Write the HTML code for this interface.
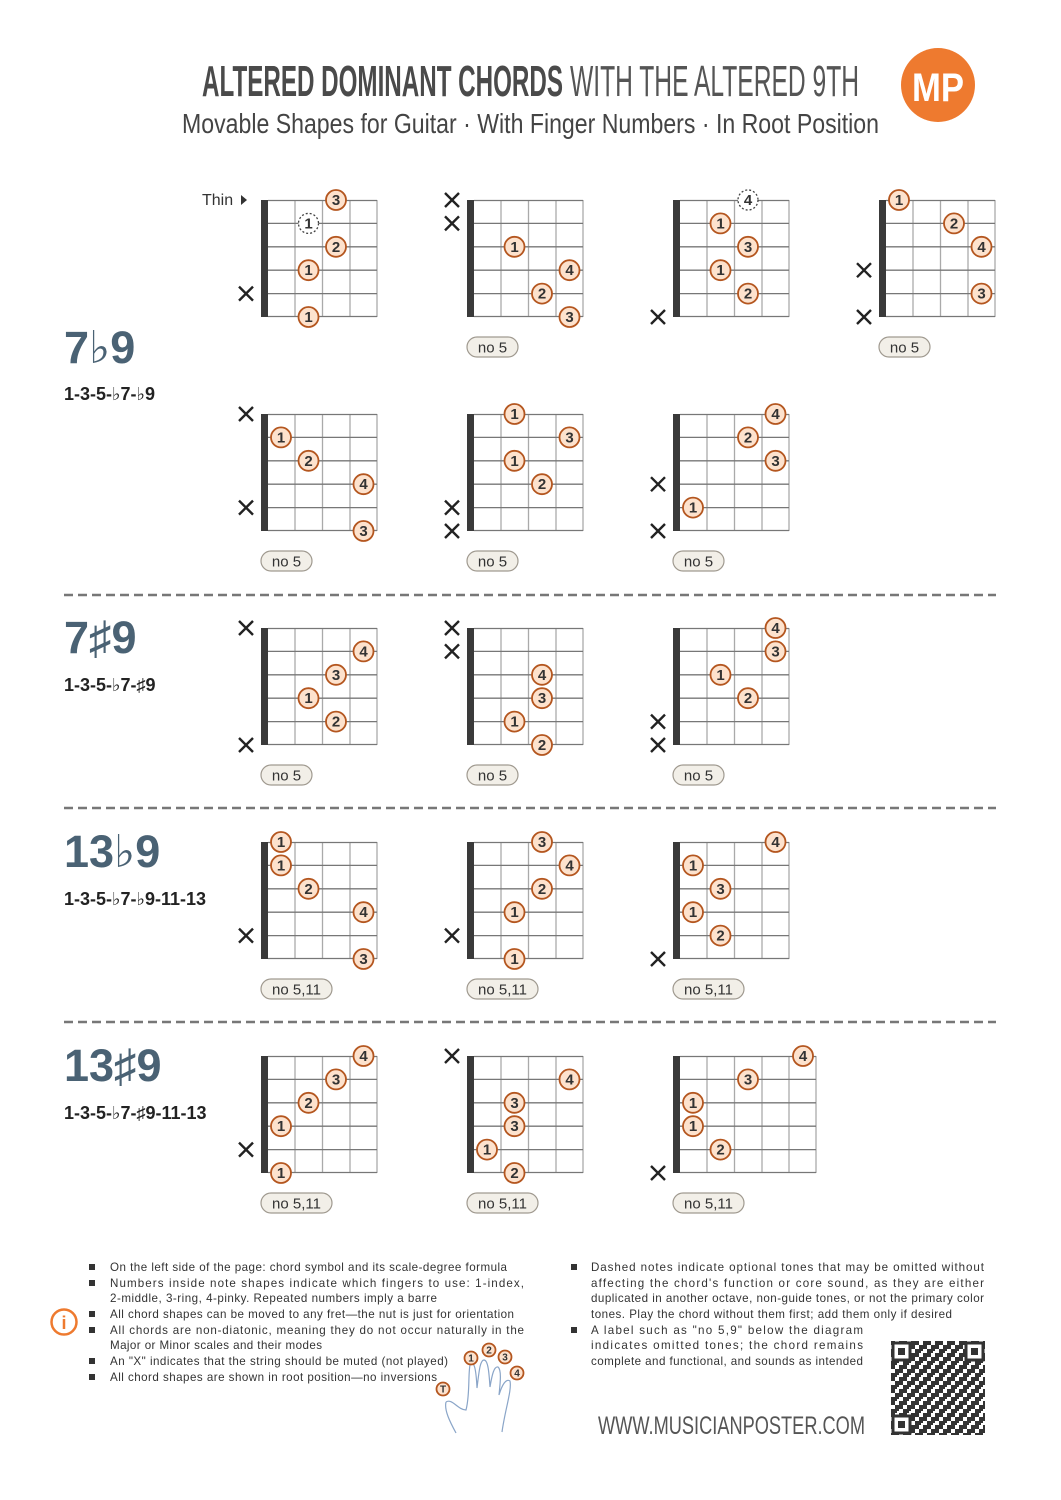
<!DOCTYPE html>
<html><head><meta charset="utf-8">
<style>
html,body{margin:0;padding:0;background:#fff;}
svg{display:block;}
text{font-family:"Liberation Sans","DejaVu Sans",sans-serif;}
.d circle{fill:#fde2cd;stroke:#b4561f;stroke-width:1.8;}
.d text{font-size:15px;font-weight:bold;fill:#333;text-anchor:middle;}
.o circle{fill:#fff;stroke:#444;stroke-width:1.3;stroke-dasharray:2 2;}
.o text{font-size:15px;font-weight:bold;fill:#333;text-anchor:middle;}
.pl rect{fill:#f2efe8;stroke:#a09a90;stroke-width:1.2;}
.pl text{font-size:15px;fill:#333;text-anchor:middle;}
.nm{font-size:45px;fill:#4a6274;font-weight:bold;}
.fm{font-size:18px;fill:#222;font-weight:600;}
.bt{font-size:11.6px;fill:#333;}
</style></head><body>
<svg width="1061" height="1500" viewBox="0 0 1061 1500" xmlns="http://www.w3.org/2000/svg">
<defs>
<g id="g4">
<rect x="0" y="0" width="7" height="117" fill="#3a3a3a"/>
<g stroke="#aaa" stroke-width="1.3">
<line x1="34" y1="0" x2="34" y2="117"/><line x1="61.5" y1="0" x2="61.5" y2="117"/><line x1="89" y1="0" x2="89" y2="117"/><line x1="116" y1="0" x2="116" y2="117"/>
</g>
<g stroke="#777" stroke-width="1.3">
<line x1="7" y1="0.5" x2="116" y2="0.5"/><line x1="7" y1="23.4" x2="116" y2="23.4"/><line x1="7" y1="46.8" x2="116" y2="46.8"/><line x1="7" y1="70.2" x2="116" y2="70.2"/><line x1="7" y1="93.6" x2="116" y2="93.6"/><line x1="7" y1="116.5" x2="116" y2="116.5"/>
</g>
</g>
<g id="g5">
<rect x="0" y="0" width="7" height="117" fill="#3a3a3a"/>
<g stroke="#aaa" stroke-width="1.3">
<line x1="34" y1="0" x2="34" y2="117"/><line x1="61.5" y1="0" x2="61.5" y2="117"/><line x1="89" y1="0" x2="89" y2="117"/><line x1="116" y1="0" x2="116" y2="117"/><line x1="143" y1="0" x2="143" y2="117"/>
</g>
<g stroke="#777" stroke-width="1.3">
<line x1="7" y1="0.5" x2="143" y2="0.5"/><line x1="7" y1="23.4" x2="143" y2="23.4"/><line x1="7" y1="46.8" x2="143" y2="46.8"/><line x1="7" y1="70.2" x2="143" y2="70.2"/><line x1="7" y1="93.6" x2="143" y2="93.6"/><line x1="7" y1="116.5" x2="143" y2="116.5"/>
</g>
</g>
<g id="x"><path d="M-7,-7L7,7M7,-7L-7,7" stroke="#222" stroke-width="2.4"/></g>
<pattern id="qr" x="891" y="1341" width="12" height="12" patternUnits="userSpaceOnUse">
<rect x="0" y="0" width="12" height="12" fill="#fff"/>
<rect x="0" y="0" width="4" height="4" fill="#333"/><rect x="4" y="4" width="4" height="4" fill="#333"/><rect x="8" y="0" width="4" height="8" fill="#333"/><rect x="0" y="8" width="8" height="4" fill="#333"/><rect x="6" y="10" width="2" height="2" fill="#fff"/>
</pattern>
</defs>

<!-- Header -->
<text x="202" y="96" font-size="44" font-weight="bold" fill="#4a4a4a" textLength="361" lengthAdjust="spacingAndGlyphs">ALTERED DOMINANT CHORDS</text>
<text x="570" y="96" font-size="44" fill="#555" textLength="289" lengthAdjust="spacingAndGlyphs" style="font-weight:300">WITH THE ALTERED 9TH</text>
<text x="182" y="133" font-size="28" fill="#444" textLength="697" lengthAdjust="spacingAndGlyphs">Movable Shapes for Guitar  ·  With Finger Numbers  ·  In Root Position</text>
<circle cx="938" cy="85" r="37" fill="#ee7a2f"/>
<text x="938" y="101" font-size="40" font-weight="bold" fill="#fff" text-anchor="middle" textLength="52" lengthAdjust="spacingAndGlyphs">MP</text>

<text x="202" y="205" font-size="16" fill="#333">Thin</text>
<path d="M241,195 L247,200 L241,205Z" fill="#333"/>

<!-- Chord names -->
<text class="nm" x="64" y="363">7♭9</text>
<text class="fm" x="64" y="400">1-3-5-♭7-♭9</text>
<text class="nm" x="64" y="653">7♯9</text>
<text class="fm" x="64" y="691">1-3-5-♭7-♯9</text>
<text class="nm" x="64" y="867">13♭9</text>
<text class="fm" x="64" y="905">1-3-5-♭7-♭9-11-13</text>
<text class="nm" x="64" y="1081">13♯9</text>
<text class="fm" x="64" y="1119">1-3-5-♭7-♯9-11-13</text>

<g stroke="#777" stroke-width="2.5" stroke-dasharray="9 5">
<line x1="64" y1="595" x2="996" y2="595"/>
<line x1="64" y1="808" x2="996" y2="808"/>
<line x1="64" y1="1022" x2="996" y2="1022"/>
</g>

<!-- Row 1 -->
<g transform="translate(261,200)"><use href="#g4"/>
<use href="#x" x="-15" y="93.6"/>
<g class="d" transform="translate(75,0)"><circle r="10"/><text y="5">3</text></g>
<g class="o" transform="translate(47.5,23.4)"><circle r="10"/><text y="5">1</text></g>
<g class="d" transform="translate(75,46.8)"><circle r="10"/><text y="5">2</text></g>
<g class="d" transform="translate(47.5,70.2)"><circle r="10"/><text y="5">1</text></g>
<g class="d" transform="translate(47.5,117)"><circle r="10"/><text y="5">1</text></g>
</g>
<g transform="translate(467,200)"><use href="#g4"/>
<use href="#x" x="-15" y="0"/><use href="#x" x="-15" y="23.4"/>
<g class="d" transform="translate(47.5,46.8)"><circle r="10"/><text y="5">1</text></g>
<g class="d" transform="translate(102.5,70.2)"><circle r="10"/><text y="5">4</text></g>
<g class="d" transform="translate(75,93.6)"><circle r="10"/><text y="5">2</text></g>
<g class="d" transform="translate(102.5,117)"><circle r="10"/><text y="5">3</text></g>
<g class="pl"><rect x="0" y="137" width="51" height="20" rx="10"/><text x="25.5" y="152.5">no 5</text></g>
</g>
<g transform="translate(673,200)"><use href="#g4"/>
<use href="#x" x="-15" y="117"/>
<g class="o" transform="translate(75,0)"><circle r="10"/><text y="5">4</text></g>
<g class="d" transform="translate(47.5,23.4)"><circle r="10"/><text y="5">1</text></g>
<g class="d" transform="translate(75,46.8)"><circle r="10"/><text y="5">3</text></g>
<g class="d" transform="translate(47.5,70.2)"><circle r="10"/><text y="5">1</text></g>
<g class="d" transform="translate(75,93.6)"><circle r="10"/><text y="5">2</text></g>
</g>
<g transform="translate(879,200)"><use href="#g4"/>
<use href="#x" x="-15" y="70.2"/><use href="#x" x="-15" y="117"/>
<g class="d" transform="translate(20,0)"><circle r="10"/><text y="5">1</text></g>
<g class="d" transform="translate(75,23.4)"><circle r="10"/><text y="5">2</text></g>
<g class="d" transform="translate(102.5,46.8)"><circle r="10"/><text y="5">4</text></g>
<g class="d" transform="translate(102.5,93.6)"><circle r="10"/><text y="5">3</text></g>
<g class="pl"><rect x="0" y="137" width="51" height="20" rx="10"/><text x="25.5" y="152.5">no 5</text></g>
</g>

<!-- Row 2 -->
<g transform="translate(261,414)"><use href="#g4"/>
<use href="#x" x="-15" y="0"/><use href="#x" x="-15" y="93.6"/>
<g class="d" transform="translate(20,23.4)"><circle r="10"/><text y="5">1</text></g>
<g class="d" transform="translate(47.5,46.8)"><circle r="10"/><text y="5">2</text></g>
<g class="d" transform="translate(102.5,70.2)"><circle r="10"/><text y="5">4</text></g>
<g class="d" transform="translate(102.5,117)"><circle r="10"/><text y="5">3</text></g>
<g class="pl"><rect x="0" y="137" width="51" height="20" rx="10"/><text x="25.5" y="152.5">no 5</text></g>
</g>
<g transform="translate(467,414)"><use href="#g4"/>
<use href="#x" x="-15" y="93.6"/><use href="#x" x="-15" y="117"/>
<g class="d" transform="translate(47.5,0)"><circle r="10"/><text y="5">1</text></g>
<g class="d" transform="translate(102.5,23.4)"><circle r="10"/><text y="5">3</text></g>
<g class="d" transform="translate(47.5,46.8)"><circle r="10"/><text y="5">1</text></g>
<g class="d" transform="translate(75,70.2)"><circle r="10"/><text y="5">2</text></g>
<g class="pl"><rect x="0" y="137" width="51" height="20" rx="10"/><text x="25.5" y="152.5">no 5</text></g>
</g>
<g transform="translate(673,414)"><use href="#g4"/>
<use href="#x" x="-15" y="70.2"/><use href="#x" x="-15" y="117"/>
<g class="d" transform="translate(102.5,0)"><circle r="10"/><text y="5">4</text></g>
<g class="d" transform="translate(75,23.4)"><circle r="10"/><text y="5">2</text></g>
<g class="d" transform="translate(102.5,46.8)"><circle r="10"/><text y="5">3</text></g>
<g class="d" transform="translate(20,93.6)"><circle r="10"/><text y="5">1</text></g>
<g class="pl"><rect x="0" y="137" width="51" height="20" rx="10"/><text x="25.5" y="152.5">no 5</text></g>
</g>

<!-- Row 3 -->
<g transform="translate(261,628)"><use href="#g4"/>
<use href="#x" x="-15" y="0"/><use href="#x" x="-15" y="117"/>
<g class="d" transform="translate(102.5,23.4)"><circle r="10"/><text y="5">4</text></g>
<g class="d" transform="translate(75,46.8)"><circle r="10"/><text y="5">3</text></g>
<g class="d" transform="translate(47.5,70.2)"><circle r="10"/><text y="5">1</text></g>
<g class="d" transform="translate(75,93.6)"><circle r="10"/><text y="5">2</text></g>
<g class="pl"><rect x="0" y="137" width="51" height="20" rx="10"/><text x="25.5" y="152.5">no 5</text></g>
</g>
<g transform="translate(467,628)"><use href="#g4"/>
<use href="#x" x="-15" y="0"/><use href="#x" x="-15" y="23.4"/>
<g class="d" transform="translate(75,46.8)"><circle r="10"/><text y="5">4</text></g>
<g class="d" transform="translate(75,70.2)"><circle r="10"/><text y="5">3</text></g>
<g class="d" transform="translate(47.5,93.6)"><circle r="10"/><text y="5">1</text></g>
<g class="d" transform="translate(75,117)"><circle r="10"/><text y="5">2</text></g>
<g class="pl"><rect x="0" y="137" width="51" height="20" rx="10"/><text x="25.5" y="152.5">no 5</text></g>
</g>
<g transform="translate(673,628)"><use href="#g4"/>
<use href="#x" x="-15" y="93.6"/><use href="#x" x="-15" y="117"/>
<g class="d" transform="translate(102.5,0)"><circle r="10"/><text y="5">4</text></g>
<g class="d" transform="translate(102.5,23.4)"><circle r="10"/><text y="5">3</text></g>
<g class="d" transform="translate(47.5,46.8)"><circle r="10"/><text y="5">1</text></g>
<g class="d" transform="translate(75,70.2)"><circle r="10"/><text y="5">2</text></g>
<g class="pl"><rect x="0" y="137" width="51" height="20" rx="10"/><text x="25.5" y="152.5">no 5</text></g>
</g>

<!-- Row 4 -->
<g transform="translate(261,842)"><use href="#g4"/>
<use href="#x" x="-15" y="93.6"/>
<g class="d" transform="translate(20,0)"><circle r="10"/><text y="5">1</text></g>
<g class="d" transform="translate(20,23.4)"><circle r="10"/><text y="5">1</text></g>
<g class="d" transform="translate(47.5,46.8)"><circle r="10"/><text y="5">2</text></g>
<g class="d" transform="translate(102.5,70.2)"><circle r="10"/><text y="5">4</text></g>
<g class="d" transform="translate(102.5,117)"><circle r="10"/><text y="5">3</text></g>
<g class="pl"><rect x="0" y="137" width="71" height="20" rx="10"/><text x="35.5" y="152.5">no 5,11</text></g>
</g>
<g transform="translate(467,842)"><use href="#g4"/>
<use href="#x" x="-15" y="93.6"/>
<g class="d" transform="translate(75,0)"><circle r="10"/><text y="5">3</text></g>
<g class="d" transform="translate(102.5,23.4)"><circle r="10"/><text y="5">4</text></g>
<g class="d" transform="translate(75,46.8)"><circle r="10"/><text y="5">2</text></g>
<g class="d" transform="translate(47.5,70.2)"><circle r="10"/><text y="5">1</text></g>
<g class="d" transform="translate(47.5,117)"><circle r="10"/><text y="5">1</text></g>
<g class="pl"><rect x="0" y="137" width="71" height="20" rx="10"/><text x="35.5" y="152.5">no 5,11</text></g>
</g>
<g transform="translate(673,842)"><use href="#g4"/>
<use href="#x" x="-15" y="117"/>
<g class="d" transform="translate(102.5,0)"><circle r="10"/><text y="5">4</text></g>
<g class="d" transform="translate(20,23.4)"><circle r="10"/><text y="5">1</text></g>
<g class="d" transform="translate(47.5,46.8)"><circle r="10"/><text y="5">3</text></g>
<g class="d" transform="translate(20,70.2)"><circle r="10"/><text y="5">1</text></g>
<g class="d" transform="translate(47.5,93.6)"><circle r="10"/><text y="5">2</text></g>
<g class="pl"><rect x="0" y="137" width="71" height="20" rx="10"/><text x="35.5" y="152.5">no 5,11</text></g>
</g>

<!-- Row 5 -->
<g transform="translate(261,1056)"><use href="#g4"/>
<use href="#x" x="-15" y="93.6"/>
<g class="d" transform="translate(102.5,0)"><circle r="10"/><text y="5">4</text></g>
<g class="d" transform="translate(75,23.4)"><circle r="10"/><text y="5">3</text></g>
<g class="d" transform="translate(47.5,46.8)"><circle r="10"/><text y="5">2</text></g>
<g class="d" transform="translate(20,70.2)"><circle r="10"/><text y="5">1</text></g>
<g class="d" transform="translate(20,117)"><circle r="10"/><text y="5">1</text></g>
<g class="pl"><rect x="0" y="137" width="71" height="20" rx="10"/><text x="35.5" y="152.5">no 5,11</text></g>
</g>
<g transform="translate(467,1056)"><use href="#g4"/>
<use href="#x" x="-15" y="0"/>
<g class="d" transform="translate(102.5,23.4)"><circle r="10"/><text y="5">4</text></g>
<g class="d" transform="translate(47.5,46.8)"><circle r="10"/><text y="5">3</text></g>
<g class="d" transform="translate(47.5,70.2)"><circle r="10"/><text y="5">3</text></g>
<g class="d" transform="translate(20,93.6)"><circle r="10"/><text y="5">1</text></g>
<g class="d" transform="translate(47.5,117)"><circle r="10"/><text y="5">2</text></g>
<g class="pl"><rect x="0" y="137" width="71" height="20" rx="10"/><text x="35.5" y="152.5">no 5,11</text></g>
</g>
<g transform="translate(673,1056)"><use href="#g5"/>
<use href="#x" x="-15" y="117"/>
<g class="d" transform="translate(130,0)"><circle r="10"/><text y="5">4</text></g>
<g class="d" transform="translate(75,23.4)"><circle r="10"/><text y="5">3</text></g>
<g class="d" transform="translate(20,46.8)"><circle r="10"/><text y="5">1</text></g>
<g class="d" transform="translate(20,70.2)"><circle r="10"/><text y="5">1</text></g>
<g class="d" transform="translate(47.5,93.6)"><circle r="10"/><text y="5">2</text></g>
<g class="pl"><rect x="0" y="137" width="71" height="20" rx="10"/><text x="35.5" y="152.5">no 5,11</text></g>
</g>

<!-- Footer notes -->
<circle cx="64" cy="1322" r="12.5" fill="none" stroke="#ee7a2f" stroke-width="2.5"/>
<text x="64" y="1329" font-size="18" font-weight="bold" fill="#ee7a2f" text-anchor="middle" font-family="Liberation Serif">i</text>
<g fill="#333">
<rect x="89" y="1264" width="6" height="6"/><rect x="89" y="1280" width="6" height="6"/><rect x="89" y="1311" width="6" height="6"/><rect x="89" y="1327" width="6" height="6"/><rect x="89" y="1358" width="6" height="6"/><rect x="89" y="1374" width="6" height="6"/>
<rect x="571" y="1264" width="6" height="6"/><rect x="571" y="1327" width="6" height="6"/>
</g>
<text class="bt" x="110" y="1271" textLength="397">On the left side of the page: chord symbol and its scale-degree formula</text>
<text class="bt" x="110" y="1287" textLength="414">Numbers inside note shapes indicate which fingers to use: 1-index,</text>
<text class="bt" x="110" y="1302" textLength="327">2-middle, 3-ring, 4-pinky. Repeated numbers imply a barre</text>
<text class="bt" x="110" y="1318" textLength="404">All chord shapes can be moved to any fret—the nut is just for orientation</text>
<text class="bt" x="110" y="1334" textLength="414">All chords are non-diatonic, meaning they do not occur naturally in the</text>
<text class="bt" x="110" y="1349" textLength="212">Major or Minor scales and their modes</text>
<text class="bt" x="110" y="1365" textLength="338">An "X" indicates that the string should be muted (not played)</text>
<text class="bt" x="110" y="1381" textLength="327">All chord shapes are shown in root position—no inversions</text>

<text class="bt" x="591" y="1271" textLength="393">Dashed notes indicate optional tones that may be omitted without</text>
<text class="bt" x="591" y="1287" textLength="393">affecting the chord's function or core sound, as they are either</text>
<text class="bt" x="591" y="1302" textLength="393">duplicated in another octave, non-guide tones, or not the primary color</text>
<text class="bt" x="591" y="1318" textLength="361">tones. Play the chord without them first; add them only if desired</text>
<text class="bt" x="591" y="1334" textLength="272">A label such as "no 5,9" below the diagram</text>
<text class="bt" x="591" y="1349" textLength="272">indicates omitted tones; the chord remains</text>
<text class="bt" x="591" y="1365" textLength="272">complete and functional, and sounds as intended</text>

<text x="598" y="1434" font-size="25" fill="#555" textLength="267" lengthAdjust="spacingAndGlyphs">WWW.MUSICIANPOSTER.COM</text>

<!-- QR -->
<rect x="891" y="1341" width="94" height="94" fill="url(#qr)"/>
<g fill="#fff" stroke="#333" stroke-width="3">
<rect x="893" y="1343" width="17" height="17"/><rect x="966" y="1343" width="17" height="17"/><rect x="893" y="1416" width="17" height="17"/>
</g>
<g fill="#333"><rect x="898" y="1348" width="7" height="7"/><rect x="971" y="1348" width="7" height="7"/><rect x="898" y="1421" width="7" height="7"/></g>

<!-- Hand -->
<path d="M446,1402 C452,1398 458,1410 466,1410 C470,1395 468,1375 470,1365 C474,1360 476,1368 477,1388 C479,1372 480,1360 484,1360 C488,1360 489,1372 490,1387 C492,1375 494,1366 498,1367 C502,1370 500,1385 499,1395 C502,1385 506,1378 510,1381 C512,1390 505,1410 502,1432 M456,1433 C450,1422 444,1410 446,1402" fill="none" stroke="#8aa5c8" stroke-width="1.2"/>
<g class="d">
<g transform="translate(471,1358)"><circle r="6.5"/><text y="3.5" style="font-size:10px">1</text></g>
<g transform="translate(489,1350)"><circle r="6.5"/><text y="3.5" style="font-size:10px">2</text></g>
<g transform="translate(505,1357)"><circle r="6.5"/><text y="3.5" style="font-size:10px">3</text></g>
<g transform="translate(517,1373)"><circle r="6.5"/><text y="3.5" style="font-size:10px">4</text></g>
<g transform="translate(443,1389)"><circle r="6.5"/><text y="3.5" style="font-size:10px">T</text></g>
</g>
</svg>
</body></html>
